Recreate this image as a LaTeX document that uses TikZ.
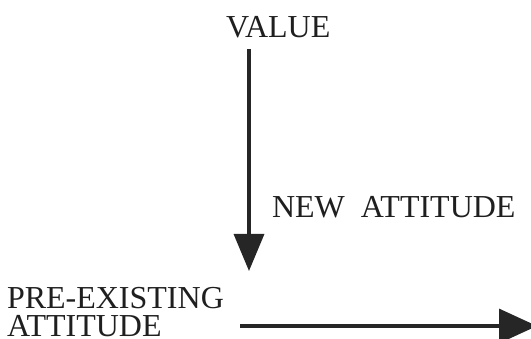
\documentclass[tikz,border=0pt]{standalone}
\usepackage{fontspec}
\setmainfont{Liberation Serif}
\usetikzlibrary{arrows.meta}
\begin{document}
\begin{tikzpicture}[x=1pt,y=-1pt,
  lbl/.style={inner sep=0pt,outer sep=0pt,text=black!88,font=\fontsize{32}{28}\selectfont},
  arr/.style={draw=black!85,line width=3.4pt,-{Triangle[length=37pt,width=30pt]}}]
\useasboundingbox (0,0) rectangle (531,339);
\node[lbl,anchor=base west] (value) at (226,38) {VALUE};
\node[lbl,anchor=base west] (new) at (272,218) {NEW\ \ ATTITUDE};
\node[lbl,anchor=north west,align=left] (pre) at (7,287.5) {PRE-EXISTING\\ATTITUDE};
\coordinate (vtop) at (249,49);
\coordinate (vend) at (249,271);
\coordinate (hstart) at (240,326);
\coordinate (hend) at (537,326);
\draw[arr] (vtop) -- (vend);
\draw[arr,-{Triangle[length=38pt,width=34pt]}] (hstart) -- (hend);
\end{tikzpicture}
\end{document}
